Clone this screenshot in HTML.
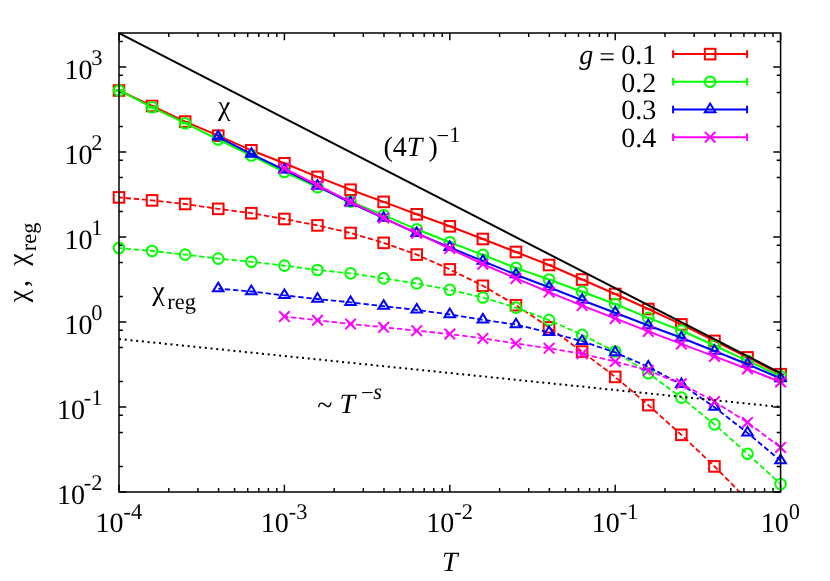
<!DOCTYPE html>
<html><head><meta charset="utf-8"><title>chart</title>
<style>.t text,.t tspan{font-family:"Liberation Serif",serif;text-rendering:geometricPrecision;}svg{will-change:transform;}html,body{margin:0;padding:0;background:#fff;}body{width:830px;height:581px;overflow:hidden;position:relative;font-family:"Liberation Serif",serif;}</style>
</head><body>
<svg role="img" aria-label="Log-log plot of chi and chi_reg versus T for g = 0.1, 0.2, 0.3, 0.4" width="830" height="581" viewBox="0 0 830 581" style="display:block;position:absolute;left:0;top:0">
<defs><clipPath id="pc"><rect x="119.0" y="33.0" width="661.6" height="459.0"/></clipPath></defs>
<rect x="0" y="0" width="830" height="581" fill="#ffffff"/>
<path d="M119.00 492.0V484.7M119.00 33.0V40.3M168.79 492.0V488.1M168.79 33.0V36.9M197.92 492.0V488.1M197.92 33.0V36.9M218.58 492.0V488.1M218.58 33.0V36.9M234.61 492.0V488.1M234.61 33.0V36.9M247.71 492.0V488.1M247.71 33.0V36.9M258.78 492.0V488.1M258.78 33.0V36.9M268.37 492.0V488.1M268.37 33.0V36.9M276.83 492.0V488.1M276.83 33.0V36.9M284.40 492.0V484.7M284.40 33.0V40.3M334.19 492.0V488.1M334.19 33.0V36.9M363.32 492.0V488.1M363.32 33.0V36.9M383.98 492.0V488.1M383.98 33.0V36.9M400.01 492.0V488.1M400.01 33.0V36.9M413.11 492.0V488.1M413.11 33.0V36.9M424.18 492.0V488.1M424.18 33.0V36.9M433.77 492.0V488.1M433.77 33.0V36.9M442.23 492.0V488.1M442.23 33.0V36.9M449.80 492.0V484.7M449.80 33.0V40.3M499.59 492.0V488.1M499.59 33.0V36.9M528.72 492.0V488.1M528.72 33.0V36.9M549.38 492.0V488.1M549.38 33.0V36.9M565.41 492.0V488.1M565.41 33.0V36.9M578.51 492.0V488.1M578.51 33.0V36.9M589.58 492.0V488.1M589.58 33.0V36.9M599.17 492.0V488.1M599.17 33.0V36.9M607.63 492.0V488.1M607.63 33.0V36.9M615.20 492.0V484.7M615.20 33.0V40.3M664.99 492.0V488.1M664.99 33.0V36.9M694.12 492.0V488.1M694.12 33.0V36.9M714.78 492.0V488.1M714.78 33.0V36.9M730.81 492.0V488.1M730.81 33.0V36.9M743.91 492.0V488.1M743.91 33.0V36.9M754.98 492.0V488.1M754.98 33.0V36.9M764.57 492.0V488.1M764.57 33.0V36.9M773.03 492.0V488.1M773.03 33.0V36.9M780.60 492.0V484.7M780.60 33.0V40.3M119.0 492.00H126.3M780.6 492.00H773.3000000000001M119.0 466.41H122.9M780.6 466.41H776.7M119.0 432.59H122.9M780.6 432.59H776.7M119.0 415.24H122.9M780.6 415.24H776.7M119.0 407.00H126.3M780.6 407.00H773.3000000000001M119.0 381.41H122.9M780.6 381.41H776.7M119.0 347.59H122.9M780.6 347.59H776.7M119.0 330.24H122.9M780.6 330.24H776.7M119.0 322.00H126.3M780.6 322.00H773.3000000000001M119.0 296.41H122.9M780.6 296.41H776.7M119.0 262.59H122.9M780.6 262.59H776.7M119.0 245.24H122.9M780.6 245.24H776.7M119.0 237.00H126.3M780.6 237.00H773.3000000000001M119.0 211.41H122.9M780.6 211.41H776.7M119.0 177.59H122.9M780.6 177.59H776.7M119.0 160.24H122.9M780.6 160.24H776.7M119.0 152.00H126.3M780.6 152.00H773.3000000000001M119.0 126.41H122.9M780.6 126.41H776.7M119.0 92.59H122.9M780.6 92.59H776.7M119.0 75.24H122.9M780.6 75.24H776.7M119.0 67.00H126.3M780.6 67.00H773.3000000000001M119.0 41.41H122.9M780.6 41.41H776.7" stroke="#000" stroke-width="1.45" fill="none"/>
<path d="M119.00 90.50L152.08 106.00L185.16 121.60L218.24 135.70L251.32 150.30L284.40 163.30L317.48 176.90L350.56 189.70L383.64 201.90L416.72 214.30L449.80 226.30L482.88 239.00L515.96 252.00L549.04 265.00L582.12 279.50L615.20 294.00L648.28 309.00L681.36 324.40L714.44 340.90L747.52 357.40L780.60 374.20" stroke="#ff0000" stroke-width="2.0" fill="none" clip-path="url(#pc)"/>
<path d="M115.60 89.90H122.40M115.60 91.10H122.40M119.00 89.90V91.10" stroke="#ff0000" stroke-width="1.4" fill="none"/><rect x="113.70" y="85.20" width="10.6" height="10.6" stroke="#ff0000" stroke-width="2.0" fill="none"/>
<path d="M148.68 106.00H155.48" stroke="#ff0000" stroke-width="1.4" fill="none"/><rect x="146.78" y="100.70" width="10.6" height="10.6" stroke="#ff0000" stroke-width="2.0" fill="none"/>
<path d="M181.76 121.60H188.56" stroke="#ff0000" stroke-width="1.4" fill="none"/><rect x="179.86" y="116.30" width="10.6" height="10.6" stroke="#ff0000" stroke-width="2.0" fill="none"/>
<path d="M214.84 135.70H221.64" stroke="#ff0000" stroke-width="1.4" fill="none"/><rect x="212.94" y="130.40" width="10.6" height="10.6" stroke="#ff0000" stroke-width="2.0" fill="none"/>
<path d="M247.92 150.30H254.72" stroke="#ff0000" stroke-width="1.4" fill="none"/><rect x="246.02" y="145.00" width="10.6" height="10.6" stroke="#ff0000" stroke-width="2.0" fill="none"/>
<path d="M281.00 163.30H287.80" stroke="#ff0000" stroke-width="1.4" fill="none"/><rect x="279.10" y="158.00" width="10.6" height="10.6" stroke="#ff0000" stroke-width="2.0" fill="none"/>
<path d="M314.08 176.90H320.88" stroke="#ff0000" stroke-width="1.4" fill="none"/><rect x="312.18" y="171.60" width="10.6" height="10.6" stroke="#ff0000" stroke-width="2.0" fill="none"/>
<path d="M347.16 189.70H353.96" stroke="#ff0000" stroke-width="1.4" fill="none"/><rect x="345.26" y="184.40" width="10.6" height="10.6" stroke="#ff0000" stroke-width="2.0" fill="none"/>
<path d="M380.24 201.90H387.04" stroke="#ff0000" stroke-width="1.4" fill="none"/><rect x="378.34" y="196.60" width="10.6" height="10.6" stroke="#ff0000" stroke-width="2.0" fill="none"/>
<path d="M413.32 214.30H420.12" stroke="#ff0000" stroke-width="1.4" fill="none"/><rect x="411.42" y="209.00" width="10.6" height="10.6" stroke="#ff0000" stroke-width="2.0" fill="none"/>
<path d="M446.40 226.30H453.20" stroke="#ff0000" stroke-width="1.4" fill="none"/><rect x="444.50" y="221.00" width="10.6" height="10.6" stroke="#ff0000" stroke-width="2.0" fill="none"/>
<path d="M479.48 239.00H486.28" stroke="#ff0000" stroke-width="1.4" fill="none"/><rect x="477.58" y="233.70" width="10.6" height="10.6" stroke="#ff0000" stroke-width="2.0" fill="none"/>
<path d="M512.56 252.00H519.36" stroke="#ff0000" stroke-width="1.4" fill="none"/><rect x="510.66" y="246.70" width="10.6" height="10.6" stroke="#ff0000" stroke-width="2.0" fill="none"/>
<path d="M545.64 265.00H552.44" stroke="#ff0000" stroke-width="1.4" fill="none"/><rect x="543.74" y="259.70" width="10.6" height="10.6" stroke="#ff0000" stroke-width="2.0" fill="none"/>
<path d="M578.72 279.50H585.52" stroke="#ff0000" stroke-width="1.4" fill="none"/><rect x="576.82" y="274.20" width="10.6" height="10.6" stroke="#ff0000" stroke-width="2.0" fill="none"/>
<path d="M611.80 294.00H618.60" stroke="#ff0000" stroke-width="1.4" fill="none"/><rect x="609.90" y="288.70" width="10.6" height="10.6" stroke="#ff0000" stroke-width="2.0" fill="none"/>
<path d="M644.88 309.00H651.68" stroke="#ff0000" stroke-width="1.4" fill="none"/><rect x="642.98" y="303.70" width="10.6" height="10.6" stroke="#ff0000" stroke-width="2.0" fill="none"/>
<path d="M677.96 324.40H684.76" stroke="#ff0000" stroke-width="1.4" fill="none"/><rect x="676.06" y="319.10" width="10.6" height="10.6" stroke="#ff0000" stroke-width="2.0" fill="none"/>
<path d="M711.04 340.90H717.84" stroke="#ff0000" stroke-width="1.4" fill="none"/><rect x="709.14" y="335.60" width="10.6" height="10.6" stroke="#ff0000" stroke-width="2.0" fill="none"/>
<path d="M744.12 357.40H750.92" stroke="#ff0000" stroke-width="1.4" fill="none"/><rect x="742.22" y="352.10" width="10.6" height="10.6" stroke="#ff0000" stroke-width="2.0" fill="none"/>
<path d="M777.20 374.20H784.00" stroke="#ff0000" stroke-width="1.4" fill="none"/><rect x="775.30" y="368.90" width="10.6" height="10.6" stroke="#ff0000" stroke-width="2.0" fill="none"/>
<path d="M119.00 90.50L152.08 107.30L185.16 123.20L218.24 139.50L251.32 155.50L284.40 172.00L317.48 187.20L350.56 201.60L383.64 215.20L416.72 229.30L449.80 242.20L482.88 254.90L515.96 267.90L549.04 279.50L582.12 291.80L615.20 304.00L648.28 317.90L681.36 330.50L714.44 345.50L747.52 360.80L780.60 376.20" stroke="#00ff00" stroke-width="2.0" fill="none" clip-path="url(#pc)"/>
<path d="M115.60 89.80H122.40M115.60 91.20H122.40M119.00 89.80V91.20" stroke="#00ff00" stroke-width="1.4" fill="none"/><circle cx="119.00" cy="90.50" r="5.3" stroke="#00ff00" stroke-width="2.0" fill="none"/>
<path d="M148.68 106.80H155.48M148.68 107.80H155.48M152.08 106.80V107.80" stroke="#00ff00" stroke-width="1.4" fill="none"/><circle cx="152.08" cy="107.30" r="5.3" stroke="#00ff00" stroke-width="2.0" fill="none"/>
<path d="M181.76 122.80H188.56M181.76 123.60H188.56M185.16 122.80V123.60" stroke="#00ff00" stroke-width="1.4" fill="none"/><circle cx="185.16" cy="123.20" r="5.3" stroke="#00ff00" stroke-width="2.0" fill="none"/>
<path d="M214.84 139.50H221.64" stroke="#00ff00" stroke-width="1.4" fill="none"/><circle cx="218.24" cy="139.50" r="5.3" stroke="#00ff00" stroke-width="2.0" fill="none"/>
<path d="M247.92 155.50H254.72" stroke="#00ff00" stroke-width="1.4" fill="none"/><circle cx="251.32" cy="155.50" r="5.3" stroke="#00ff00" stroke-width="2.0" fill="none"/>
<path d="M281.00 172.00H287.80" stroke="#00ff00" stroke-width="1.4" fill="none"/><circle cx="284.40" cy="172.00" r="5.3" stroke="#00ff00" stroke-width="2.0" fill="none"/>
<path d="M314.08 187.20H320.88" stroke="#00ff00" stroke-width="1.4" fill="none"/><circle cx="317.48" cy="187.20" r="5.3" stroke="#00ff00" stroke-width="2.0" fill="none"/>
<path d="M347.16 201.60H353.96" stroke="#00ff00" stroke-width="1.4" fill="none"/><circle cx="350.56" cy="201.60" r="5.3" stroke="#00ff00" stroke-width="2.0" fill="none"/>
<path d="M380.24 215.20H387.04" stroke="#00ff00" stroke-width="1.4" fill="none"/><circle cx="383.64" cy="215.20" r="5.3" stroke="#00ff00" stroke-width="2.0" fill="none"/>
<path d="M413.32 229.30H420.12" stroke="#00ff00" stroke-width="1.4" fill="none"/><circle cx="416.72" cy="229.30" r="5.3" stroke="#00ff00" stroke-width="2.0" fill="none"/>
<path d="M446.40 242.20H453.20" stroke="#00ff00" stroke-width="1.4" fill="none"/><circle cx="449.80" cy="242.20" r="5.3" stroke="#00ff00" stroke-width="2.0" fill="none"/>
<path d="M479.48 254.90H486.28" stroke="#00ff00" stroke-width="1.4" fill="none"/><circle cx="482.88" cy="254.90" r="5.3" stroke="#00ff00" stroke-width="2.0" fill="none"/>
<path d="M512.56 267.90H519.36" stroke="#00ff00" stroke-width="1.4" fill="none"/><circle cx="515.96" cy="267.90" r="5.3" stroke="#00ff00" stroke-width="2.0" fill="none"/>
<path d="M545.64 279.50H552.44" stroke="#00ff00" stroke-width="1.4" fill="none"/><circle cx="549.04" cy="279.50" r="5.3" stroke="#00ff00" stroke-width="2.0" fill="none"/>
<path d="M578.72 291.80H585.52" stroke="#00ff00" stroke-width="1.4" fill="none"/><circle cx="582.12" cy="291.80" r="5.3" stroke="#00ff00" stroke-width="2.0" fill="none"/>
<path d="M611.80 304.00H618.60" stroke="#00ff00" stroke-width="1.4" fill="none"/><circle cx="615.20" cy="304.00" r="5.3" stroke="#00ff00" stroke-width="2.0" fill="none"/>
<path d="M644.88 317.90H651.68" stroke="#00ff00" stroke-width="1.4" fill="none"/><circle cx="648.28" cy="317.90" r="5.3" stroke="#00ff00" stroke-width="2.0" fill="none"/>
<path d="M677.96 330.50H684.76" stroke="#00ff00" stroke-width="1.4" fill="none"/><circle cx="681.36" cy="330.50" r="5.3" stroke="#00ff00" stroke-width="2.0" fill="none"/>
<path d="M711.04 345.50H717.84" stroke="#00ff00" stroke-width="1.4" fill="none"/><circle cx="714.44" cy="345.50" r="5.3" stroke="#00ff00" stroke-width="2.0" fill="none"/>
<path d="M744.12 360.80H750.92" stroke="#00ff00" stroke-width="1.4" fill="none"/><circle cx="747.52" cy="360.80" r="5.3" stroke="#00ff00" stroke-width="2.0" fill="none"/>
<path d="M777.20 376.20H784.00" stroke="#00ff00" stroke-width="1.4" fill="none"/><circle cx="780.60" cy="376.20" r="5.3" stroke="#00ff00" stroke-width="2.0" fill="none"/>
<path d="M218.24 136.80L251.32 154.10L284.40 169.90L317.48 186.00L350.56 202.80L383.64 218.20L416.72 233.30L449.80 247.30L482.88 261.20L515.96 274.70L549.04 287.20L582.12 300.20L615.20 312.70L648.28 325.50L681.36 337.80L714.44 351.00L747.52 364.20L780.60 378.50" stroke="#0000ff" stroke-width="2.0" fill="none" clip-path="url(#pc)"/>
<path d="M214.84 135.30H221.64M214.84 138.30H221.64M218.24 135.30V138.30" stroke="#0000ff" stroke-width="1.4" fill="none"/><path d="M218.24 130.86L212.94 139.45H223.54Z" stroke="#0000ff" stroke-width="2.0" fill="none"/>
<path d="M247.92 153.40H254.72M247.92 154.80H254.72M251.32 153.40V154.80" stroke="#0000ff" stroke-width="1.4" fill="none"/><path d="M251.32 148.16L246.02 156.75H256.62Z" stroke="#0000ff" stroke-width="2.0" fill="none"/>
<path d="M281.00 169.90H287.80" stroke="#0000ff" stroke-width="1.4" fill="none"/><path d="M284.40 163.96L279.10 172.55H289.70Z" stroke="#0000ff" stroke-width="2.0" fill="none"/>
<path d="M314.08 186.00H320.88" stroke="#0000ff" stroke-width="1.4" fill="none"/><path d="M317.48 180.06L312.18 188.65H322.78Z" stroke="#0000ff" stroke-width="2.0" fill="none"/>
<path d="M347.16 202.80H353.96" stroke="#0000ff" stroke-width="1.4" fill="none"/><path d="M350.56 196.86L345.26 205.45H355.86Z" stroke="#0000ff" stroke-width="2.0" fill="none"/>
<path d="M380.24 218.20H387.04" stroke="#0000ff" stroke-width="1.4" fill="none"/><path d="M383.64 212.26L378.34 220.85H388.94Z" stroke="#0000ff" stroke-width="2.0" fill="none"/>
<path d="M413.32 233.30H420.12" stroke="#0000ff" stroke-width="1.4" fill="none"/><path d="M416.72 227.36L411.42 235.95H422.02Z" stroke="#0000ff" stroke-width="2.0" fill="none"/>
<path d="M446.40 247.30H453.20" stroke="#0000ff" stroke-width="1.4" fill="none"/><path d="M449.80 241.36L444.50 249.95H455.10Z" stroke="#0000ff" stroke-width="2.0" fill="none"/>
<path d="M479.48 261.20H486.28" stroke="#0000ff" stroke-width="1.4" fill="none"/><path d="M482.88 255.26L477.58 263.85H488.18Z" stroke="#0000ff" stroke-width="2.0" fill="none"/>
<path d="M512.56 274.70H519.36" stroke="#0000ff" stroke-width="1.4" fill="none"/><path d="M515.96 268.76L510.66 277.35H521.26Z" stroke="#0000ff" stroke-width="2.0" fill="none"/>
<path d="M545.64 287.20H552.44" stroke="#0000ff" stroke-width="1.4" fill="none"/><path d="M549.04 281.26L543.74 289.85H554.34Z" stroke="#0000ff" stroke-width="2.0" fill="none"/>
<path d="M578.72 300.20H585.52" stroke="#0000ff" stroke-width="1.4" fill="none"/><path d="M582.12 294.26L576.82 302.85H587.42Z" stroke="#0000ff" stroke-width="2.0" fill="none"/>
<path d="M611.80 312.70H618.60" stroke="#0000ff" stroke-width="1.4" fill="none"/><path d="M615.20 306.76L609.90 315.35H620.50Z" stroke="#0000ff" stroke-width="2.0" fill="none"/>
<path d="M644.88 325.50H651.68" stroke="#0000ff" stroke-width="1.4" fill="none"/><path d="M648.28 319.56L642.98 328.15H653.58Z" stroke="#0000ff" stroke-width="2.0" fill="none"/>
<path d="M677.96 337.80H684.76" stroke="#0000ff" stroke-width="1.4" fill="none"/><path d="M681.36 331.86L676.06 340.45H686.66Z" stroke="#0000ff" stroke-width="2.0" fill="none"/>
<path d="M711.04 351.00H717.84" stroke="#0000ff" stroke-width="1.4" fill="none"/><path d="M714.44 345.06L709.14 353.65H719.74Z" stroke="#0000ff" stroke-width="2.0" fill="none"/>
<path d="M744.12 364.20H750.92" stroke="#0000ff" stroke-width="1.4" fill="none"/><path d="M747.52 358.26L742.22 366.85H752.82Z" stroke="#0000ff" stroke-width="2.0" fill="none"/>
<path d="M777.20 378.50H784.00" stroke="#0000ff" stroke-width="1.4" fill="none"/><path d="M780.60 372.56L775.30 381.15H785.90Z" stroke="#0000ff" stroke-width="2.0" fill="none"/>
<path d="M284.40 168.35L317.48 185.25L350.56 201.85L383.64 217.90L416.72 233.20L449.80 248.60L482.88 264.20L515.96 278.40L549.04 292.10L582.12 305.60L615.20 318.40L648.28 331.40L681.36 343.90L714.44 356.40L747.52 369.00L780.60 382.00" stroke="#ff00ff" stroke-width="2.0" fill="none" clip-path="url(#pc)"/>
<path d="M281.00 167.45H287.80M281.00 169.25H287.80M284.40 167.45V169.25" stroke="#ff00ff" stroke-width="1.4" fill="none"/><path d="M279.10 163.05L289.70 173.65M279.10 173.65L289.70 163.05" stroke="#ff00ff" stroke-width="2.0" fill="none"/>
<path d="M314.08 185.25H320.88" stroke="#ff00ff" stroke-width="1.4" fill="none"/><path d="M312.18 179.95L322.78 190.55M312.18 190.55L322.78 179.95" stroke="#ff00ff" stroke-width="2.0" fill="none"/>
<path d="M347.16 201.85H353.96" stroke="#ff00ff" stroke-width="1.4" fill="none"/><path d="M345.26 196.55L355.86 207.15M345.26 207.15L355.86 196.55" stroke="#ff00ff" stroke-width="2.0" fill="none"/>
<path d="M380.24 217.90H387.04" stroke="#ff00ff" stroke-width="1.4" fill="none"/><path d="M378.34 212.60L388.94 223.20M378.34 223.20L388.94 212.60" stroke="#ff00ff" stroke-width="2.0" fill="none"/>
<path d="M413.32 233.20H420.12" stroke="#ff00ff" stroke-width="1.4" fill="none"/><path d="M411.42 227.90L422.02 238.50M411.42 238.50L422.02 227.90" stroke="#ff00ff" stroke-width="2.0" fill="none"/>
<path d="M446.40 248.60H453.20" stroke="#ff00ff" stroke-width="1.4" fill="none"/><path d="M444.50 243.30L455.10 253.90M444.50 253.90L455.10 243.30" stroke="#ff00ff" stroke-width="2.0" fill="none"/>
<path d="M479.48 264.20H486.28" stroke="#ff00ff" stroke-width="1.4" fill="none"/><path d="M477.58 258.90L488.18 269.50M477.58 269.50L488.18 258.90" stroke="#ff00ff" stroke-width="2.0" fill="none"/>
<path d="M512.56 278.40H519.36" stroke="#ff00ff" stroke-width="1.4" fill="none"/><path d="M510.66 273.10L521.26 283.70M510.66 283.70L521.26 273.10" stroke="#ff00ff" stroke-width="2.0" fill="none"/>
<path d="M545.64 292.10H552.44" stroke="#ff00ff" stroke-width="1.4" fill="none"/><path d="M543.74 286.80L554.34 297.40M543.74 297.40L554.34 286.80" stroke="#ff00ff" stroke-width="2.0" fill="none"/>
<path d="M578.72 305.60H585.52" stroke="#ff00ff" stroke-width="1.4" fill="none"/><path d="M576.82 300.30L587.42 310.90M576.82 310.90L587.42 300.30" stroke="#ff00ff" stroke-width="2.0" fill="none"/>
<path d="M611.80 318.40H618.60" stroke="#ff00ff" stroke-width="1.4" fill="none"/><path d="M609.90 313.10L620.50 323.70M609.90 323.70L620.50 313.10" stroke="#ff00ff" stroke-width="2.0" fill="none"/>
<path d="M644.88 331.40H651.68" stroke="#ff00ff" stroke-width="1.4" fill="none"/><path d="M642.98 326.10L653.58 336.70M642.98 336.70L653.58 326.10" stroke="#ff00ff" stroke-width="2.0" fill="none"/>
<path d="M677.96 343.90H684.76" stroke="#ff00ff" stroke-width="1.4" fill="none"/><path d="M676.06 338.60L686.66 349.20M676.06 349.20L686.66 338.60" stroke="#ff00ff" stroke-width="2.0" fill="none"/>
<path d="M711.04 356.40H717.84" stroke="#ff00ff" stroke-width="1.4" fill="none"/><path d="M709.14 351.10L719.74 361.70M709.14 361.70L719.74 351.10" stroke="#ff00ff" stroke-width="2.0" fill="none"/>
<path d="M744.12 369.00H750.92" stroke="#ff00ff" stroke-width="1.4" fill="none"/><path d="M742.22 363.70L752.82 374.30M742.22 374.30L752.82 363.70" stroke="#ff00ff" stroke-width="2.0" fill="none"/>
<path d="M777.20 382.00H784.00" stroke="#ff00ff" stroke-width="1.4" fill="none"/><path d="M775.30 376.70L785.90 387.30M775.30 387.30L785.90 376.70" stroke="#ff00ff" stroke-width="2.0" fill="none"/>
<path d="M119.00 197.40L152.08 200.40L185.16 204.00L218.24 208.85L251.32 213.20L284.40 219.00L317.48 225.40L350.56 233.00L383.64 242.85L416.72 254.60L449.80 269.40L482.88 285.80L515.96 305.20L549.04 327.35L582.12 351.60L615.20 376.90L648.28 405.10L681.36 434.80L714.44 466.40L747.52 500.00" stroke="#ff0000" stroke-width="1.8" fill="none" stroke-dasharray="5.4 2.8" stroke-dashoffset="1.6" clip-path="url(#pc)"/>
<rect x="113.70" y="192.10" width="10.6" height="10.6" stroke="#ff0000" stroke-width="2.0" fill="none"/>
<rect x="146.78" y="195.10" width="10.6" height="10.6" stroke="#ff0000" stroke-width="2.0" fill="none"/>
<rect x="179.86" y="198.70" width="10.6" height="10.6" stroke="#ff0000" stroke-width="2.0" fill="none"/>
<rect x="212.94" y="203.55" width="10.6" height="10.6" stroke="#ff0000" stroke-width="2.0" fill="none"/>
<rect x="246.02" y="207.90" width="10.6" height="10.6" stroke="#ff0000" stroke-width="2.0" fill="none"/>
<rect x="279.10" y="213.70" width="10.6" height="10.6" stroke="#ff0000" stroke-width="2.0" fill="none"/>
<rect x="312.18" y="220.10" width="10.6" height="10.6" stroke="#ff0000" stroke-width="2.0" fill="none"/>
<rect x="345.26" y="227.70" width="10.6" height="10.6" stroke="#ff0000" stroke-width="2.0" fill="none"/>
<rect x="378.34" y="237.55" width="10.6" height="10.6" stroke="#ff0000" stroke-width="2.0" fill="none"/>
<rect x="411.42" y="249.30" width="10.6" height="10.6" stroke="#ff0000" stroke-width="2.0" fill="none"/>
<rect x="444.50" y="264.10" width="10.6" height="10.6" stroke="#ff0000" stroke-width="2.0" fill="none"/>
<rect x="477.58" y="280.50" width="10.6" height="10.6" stroke="#ff0000" stroke-width="2.0" fill="none"/>
<rect x="510.66" y="299.90" width="10.6" height="10.6" stroke="#ff0000" stroke-width="2.0" fill="none"/>
<rect x="543.74" y="322.05" width="10.6" height="10.6" stroke="#ff0000" stroke-width="2.0" fill="none"/>
<rect x="576.82" y="346.30" width="10.6" height="10.6" stroke="#ff0000" stroke-width="2.0" fill="none"/>
<rect x="609.90" y="371.60" width="10.6" height="10.6" stroke="#ff0000" stroke-width="2.0" fill="none"/>
<rect x="642.98" y="399.80" width="10.6" height="10.6" stroke="#ff0000" stroke-width="2.0" fill="none"/>
<rect x="676.06" y="429.50" width="10.6" height="10.6" stroke="#ff0000" stroke-width="2.0" fill="none"/>
<rect x="709.14" y="461.10" width="10.6" height="10.6" stroke="#ff0000" stroke-width="2.0" fill="none"/>
<path d="M119.00 248.00L152.08 251.00L185.16 254.60L218.24 258.60L251.32 261.80L284.40 265.60L317.48 270.00L350.56 273.40L383.64 278.40L416.72 283.40L449.80 289.85L482.88 297.50L515.96 307.60L549.04 320.10L582.12 334.85L615.20 351.50L648.28 373.20L681.36 397.60L714.44 424.40L747.52 453.80L780.60 484.00" stroke="#00ff00" stroke-width="1.8" fill="none" stroke-dasharray="5.4 2.8" stroke-dashoffset="1.6" clip-path="url(#pc)"/>
<circle cx="119.00" cy="248.00" r="5.3" stroke="#00ff00" stroke-width="2.0" fill="none"/>
<circle cx="152.08" cy="251.00" r="5.3" stroke="#00ff00" stroke-width="2.0" fill="none"/>
<circle cx="185.16" cy="254.60" r="5.3" stroke="#00ff00" stroke-width="2.0" fill="none"/>
<circle cx="218.24" cy="258.60" r="5.3" stroke="#00ff00" stroke-width="2.0" fill="none"/>
<circle cx="251.32" cy="261.80" r="5.3" stroke="#00ff00" stroke-width="2.0" fill="none"/>
<circle cx="284.40" cy="265.60" r="5.3" stroke="#00ff00" stroke-width="2.0" fill="none"/>
<circle cx="317.48" cy="270.00" r="5.3" stroke="#00ff00" stroke-width="2.0" fill="none"/>
<circle cx="350.56" cy="273.40" r="5.3" stroke="#00ff00" stroke-width="2.0" fill="none"/>
<circle cx="383.64" cy="278.40" r="5.3" stroke="#00ff00" stroke-width="2.0" fill="none"/>
<circle cx="416.72" cy="283.40" r="5.3" stroke="#00ff00" stroke-width="2.0" fill="none"/>
<circle cx="449.80" cy="289.85" r="5.3" stroke="#00ff00" stroke-width="2.0" fill="none"/>
<circle cx="482.88" cy="297.50" r="5.3" stroke="#00ff00" stroke-width="2.0" fill="none"/>
<circle cx="515.96" cy="307.60" r="5.3" stroke="#00ff00" stroke-width="2.0" fill="none"/>
<circle cx="549.04" cy="320.10" r="5.3" stroke="#00ff00" stroke-width="2.0" fill="none"/>
<circle cx="582.12" cy="334.85" r="5.3" stroke="#00ff00" stroke-width="2.0" fill="none"/>
<circle cx="615.20" cy="351.50" r="5.3" stroke="#00ff00" stroke-width="2.0" fill="none"/>
<circle cx="648.28" cy="373.20" r="5.3" stroke="#00ff00" stroke-width="2.0" fill="none"/>
<circle cx="681.36" cy="397.60" r="5.3" stroke="#00ff00" stroke-width="2.0" fill="none"/>
<circle cx="714.44" cy="424.40" r="5.3" stroke="#00ff00" stroke-width="2.0" fill="none"/>
<circle cx="747.52" cy="453.80" r="5.3" stroke="#00ff00" stroke-width="2.0" fill="none"/>
<circle cx="780.60" cy="484.00" r="5.3" stroke="#00ff00" stroke-width="2.0" fill="none"/>
<path d="M218.24 288.70L251.32 291.50L284.40 295.40L317.48 299.00L350.56 302.40L383.64 306.20L416.72 309.90L449.80 314.50L482.88 319.80L515.96 324.60L549.04 332.40L582.12 341.25L615.20 352.50L648.28 366.85L681.36 384.35L714.44 407.20L747.52 432.90L780.60 460.70" stroke="#0000ff" stroke-width="1.8" fill="none" stroke-dasharray="5.4 2.8" stroke-dashoffset="1.6" clip-path="url(#pc)"/>
<path d="M218.24 282.76L212.94 291.35H223.54Z" stroke="#0000ff" stroke-width="2.0" fill="none"/>
<path d="M251.32 285.56L246.02 294.15H256.62Z" stroke="#0000ff" stroke-width="2.0" fill="none"/>
<path d="M284.40 289.46L279.10 298.05H289.70Z" stroke="#0000ff" stroke-width="2.0" fill="none"/>
<path d="M317.48 293.06L312.18 301.65H322.78Z" stroke="#0000ff" stroke-width="2.0" fill="none"/>
<path d="M350.56 296.46L345.26 305.05H355.86Z" stroke="#0000ff" stroke-width="2.0" fill="none"/>
<path d="M383.64 300.26L378.34 308.85H388.94Z" stroke="#0000ff" stroke-width="2.0" fill="none"/>
<path d="M416.72 303.96L411.42 312.55H422.02Z" stroke="#0000ff" stroke-width="2.0" fill="none"/>
<path d="M449.80 308.56L444.50 317.15H455.10Z" stroke="#0000ff" stroke-width="2.0" fill="none"/>
<path d="M482.88 313.86L477.58 322.45H488.18Z" stroke="#0000ff" stroke-width="2.0" fill="none"/>
<path d="M515.96 318.66L510.66 327.25H521.26Z" stroke="#0000ff" stroke-width="2.0" fill="none"/>
<path d="M549.04 326.46L543.74 335.05H554.34Z" stroke="#0000ff" stroke-width="2.0" fill="none"/>
<path d="M582.12 335.31L576.82 343.90H587.42Z" stroke="#0000ff" stroke-width="2.0" fill="none"/>
<path d="M615.20 346.56L609.90 355.15H620.50Z" stroke="#0000ff" stroke-width="2.0" fill="none"/>
<path d="M648.28 360.91L642.98 369.50H653.58Z" stroke="#0000ff" stroke-width="2.0" fill="none"/>
<path d="M681.36 378.41L676.06 387.00H686.66Z" stroke="#0000ff" stroke-width="2.0" fill="none"/>
<path d="M714.44 401.26L709.14 409.85H719.74Z" stroke="#0000ff" stroke-width="2.0" fill="none"/>
<path d="M747.52 426.96L742.22 435.55H752.82Z" stroke="#0000ff" stroke-width="2.0" fill="none"/>
<path d="M780.60 454.76L775.30 463.35H785.90Z" stroke="#0000ff" stroke-width="2.0" fill="none"/>
<path d="M284.40 316.60L317.48 320.25L350.56 324.00L383.64 327.30L416.72 330.70L449.80 334.00L482.88 338.40L515.96 343.50L549.04 348.30L582.12 353.80L615.20 361.50L648.28 370.60L681.36 383.85L714.44 401.60L747.52 422.40L780.60 447.40" stroke="#ff00ff" stroke-width="1.8" fill="none" stroke-dasharray="5.4 2.8" stroke-dashoffset="1.6" clip-path="url(#pc)"/>
<path d="M279.10 311.30L289.70 321.90M279.10 321.90L289.70 311.30" stroke="#ff00ff" stroke-width="2.0" fill="none"/>
<path d="M312.18 314.95L322.78 325.55M312.18 325.55L322.78 314.95" stroke="#ff00ff" stroke-width="2.0" fill="none"/>
<path d="M345.26 318.70L355.86 329.30M345.26 329.30L355.86 318.70" stroke="#ff00ff" stroke-width="2.0" fill="none"/>
<path d="M378.34 322.00L388.94 332.60M378.34 332.60L388.94 322.00" stroke="#ff00ff" stroke-width="2.0" fill="none"/>
<path d="M411.42 325.40L422.02 336.00M411.42 336.00L422.02 325.40" stroke="#ff00ff" stroke-width="2.0" fill="none"/>
<path d="M444.50 328.70L455.10 339.30M444.50 339.30L455.10 328.70" stroke="#ff00ff" stroke-width="2.0" fill="none"/>
<path d="M477.58 333.10L488.18 343.70M477.58 343.70L488.18 333.10" stroke="#ff00ff" stroke-width="2.0" fill="none"/>
<path d="M510.66 338.20L521.26 348.80M510.66 348.80L521.26 338.20" stroke="#ff00ff" stroke-width="2.0" fill="none"/>
<path d="M543.74 343.00L554.34 353.60M543.74 353.60L554.34 343.00" stroke="#ff00ff" stroke-width="2.0" fill="none"/>
<path d="M576.82 348.50L587.42 359.10M576.82 359.10L587.42 348.50" stroke="#ff00ff" stroke-width="2.0" fill="none"/>
<path d="M609.90 356.20L620.50 366.80M609.90 366.80L620.50 356.20" stroke="#ff00ff" stroke-width="2.0" fill="none"/>
<path d="M642.98 365.30L653.58 375.90M642.98 375.90L653.58 365.30" stroke="#ff00ff" stroke-width="2.0" fill="none"/>
<path d="M676.06 378.55L686.66 389.15M676.06 389.15L686.66 378.55" stroke="#ff00ff" stroke-width="2.0" fill="none"/>
<path d="M709.14 396.30L719.74 406.90M709.14 406.90L719.74 396.30" stroke="#ff00ff" stroke-width="2.0" fill="none"/>
<path d="M742.22 417.10L752.82 427.70M742.22 427.70L752.82 417.10" stroke="#ff00ff" stroke-width="2.0" fill="none"/>
<path d="M775.30 442.10L785.90 452.70M775.30 452.70L785.90 442.10" stroke="#ff00ff" stroke-width="2.0" fill="none"/>
<path d="M119.0 33.18L780.6 373.18" stroke="#000" stroke-width="2.0" fill="none"/>
<path d="M119.0 339.00L780.6 407.00" stroke="#000" stroke-width="2.0" fill="none" stroke-dasharray="2 3.75"/>
<rect x="119.0" y="33.0" width="661.6" height="459.0" stroke="#000" stroke-width="1.5" fill="none"/>
<path d="M673.1 54.1H747.1M673.1 50.300000000000004V57.9M747.1 50.300000000000004V57.9" stroke="#ff0000" stroke-width="2.0" fill="none"/>
<rect x="704.85" y="48.80" width="10.6" height="10.6" stroke="#ff0000" stroke-width="2.0" fill="none"/>
<path d="M673.1 81.8H747.1M673.1 78.0V85.6M747.1 78.0V85.6" stroke="#00ff00" stroke-width="2.0" fill="none"/>
<circle cx="710.15" cy="81.80" r="5.3" stroke="#00ff00" stroke-width="2.0" fill="none"/>
<path d="M673.1 109.5H747.1M673.1 105.7V113.3M747.1 105.7V113.3" stroke="#0000ff" stroke-width="2.0" fill="none"/>
<path d="M710.15 103.56L704.85 112.15H715.45Z" stroke="#0000ff" stroke-width="2.0" fill="none"/>
<path d="M673.1 137.2H747.1M673.1 133.39999999999998V141.0M747.1 133.39999999999998V141.0" stroke="#ff00ff" stroke-width="2.0" fill="none"/>
<path d="M704.85 131.90L715.45 142.50M704.85 142.50L715.45 131.90" stroke="#ff00ff" stroke-width="2.0" fill="none"/>
<g class="t" fill="#000">
<text x="656.2" y="63.8" font-size="28" text-anchor="end" >0.1</text>
<text x="656.2" y="91.5" font-size="28" text-anchor="end" >0.2</text>
<text x="656.2" y="119.2" font-size="28" text-anchor="end" >0.3</text>
<text x="656.2" y="146.89999999999998" font-size="28" text-anchor="end" >0.4</text>
<text x="579.3" y="63.6" font-size="28" text-anchor="start" font-style="italic" >g</text>
<text x="599.2" y="65.7" font-size="28" text-anchor="start" >=</text>
<text x="85.04" y="504.3" font-size="28" text-anchor="end" >10</text>
<text x="83.74000000000001" y="490.0" font-size="22.4" text-anchor="start" >-2</text>
<text x="85.04" y="419.3" font-size="28" text-anchor="end" >10</text>
<text x="83.74000000000001" y="405.0" font-size="22.4" text-anchor="start" >-1</text>
<text x="92.5" y="334.3" font-size="28" text-anchor="end" >10</text>
<text x="91.2" y="320.0" font-size="22.4" text-anchor="start" >0</text>
<text x="92.5" y="249.3" font-size="28" text-anchor="end" >10</text>
<text x="91.2" y="235.0" font-size="22.4" text-anchor="start" >1</text>
<text x="92.5" y="164.3" font-size="28" text-anchor="end" >10</text>
<text x="91.2" y="150.0" font-size="22.4" text-anchor="start" >2</text>
<text x="92.5" y="79.3" font-size="28" text-anchor="end" >10</text>
<text x="91.2" y="65.0" font-size="22.4" text-anchor="start" >3</text>
<text x="95.47" y="532" font-size="28" text-anchor="start" >10</text>
<text x="123.47" y="518.5" font-size="22.4" text-anchor="start" >-4</text>
<text x="260.87" y="532" font-size="28" text-anchor="start" >10</text>
<text x="288.87" y="518.5" font-size="22.4" text-anchor="start" >-3</text>
<text x="426.27" y="532" font-size="28" text-anchor="start" >10</text>
<text x="454.27" y="518.5" font-size="22.4" text-anchor="start" >-2</text>
<text x="591.67" y="532" font-size="28" text-anchor="start" >10</text>
<text x="619.67" y="518.5" font-size="22.4" text-anchor="start" >-1</text>
<text x="760.80" y="532" font-size="28" text-anchor="start" >10</text>
<text x="788.80" y="518.5" font-size="22.4" text-anchor="start" >0</text>
<text x="442.0" y="570.7" font-size="28" text-anchor="start" font-style="italic" >T</text>
<text transform="translate(14.15,302.2) rotate(-90)" x="0" y="13" font-size="28" text-anchor="start">χ</text><text transform="translate(14.15,265.7) rotate(-90)" x="0" y="13" font-size="28" text-anchor="start">χ</text>
<g transform="translate(27.3,302.5) rotate(-90)"><text x="15.6" y="1.0" font-size="28" text-anchor="start" >,</text><text x="51.3" y="9.0" font-size="22.4" text-anchor="start" >reg</text></g>
<text x="217.9" y="114.6" font-size="28" text-anchor="start">χ</text>
<text x="152.3" y="300.1" font-size="28" text-anchor="start">χ</text>
<text x="167.3" y="308.8" font-size="22.4" text-anchor="start" >reg</text>
<text x="383.5" y="155.7" font-size="28" text-anchor="start" >(4<tspan font-style="italic">T</tspan> <tspan dx="-1">)</tspan></text>
<text x="436.6" y="141.9" font-size="22.4" text-anchor="start" ><tspan dy="1.2">−</tspan><tspan dy="-1.2">1</tspan></text>
<text x="317.2" y="413.9" font-size="28" text-anchor="start" >~</text>
<text x="339.5" y="412.9" font-size="28" text-anchor="start" font-style="italic" >T</text>
<text x="360.9" y="398.6" font-size="22.4" text-anchor="start" ><tspan dy="1.3">−</tspan><tspan dy="-1.3" dx="-0.4" font-style="italic">s</tspan></text>
</g>
</svg>
</body></html>
